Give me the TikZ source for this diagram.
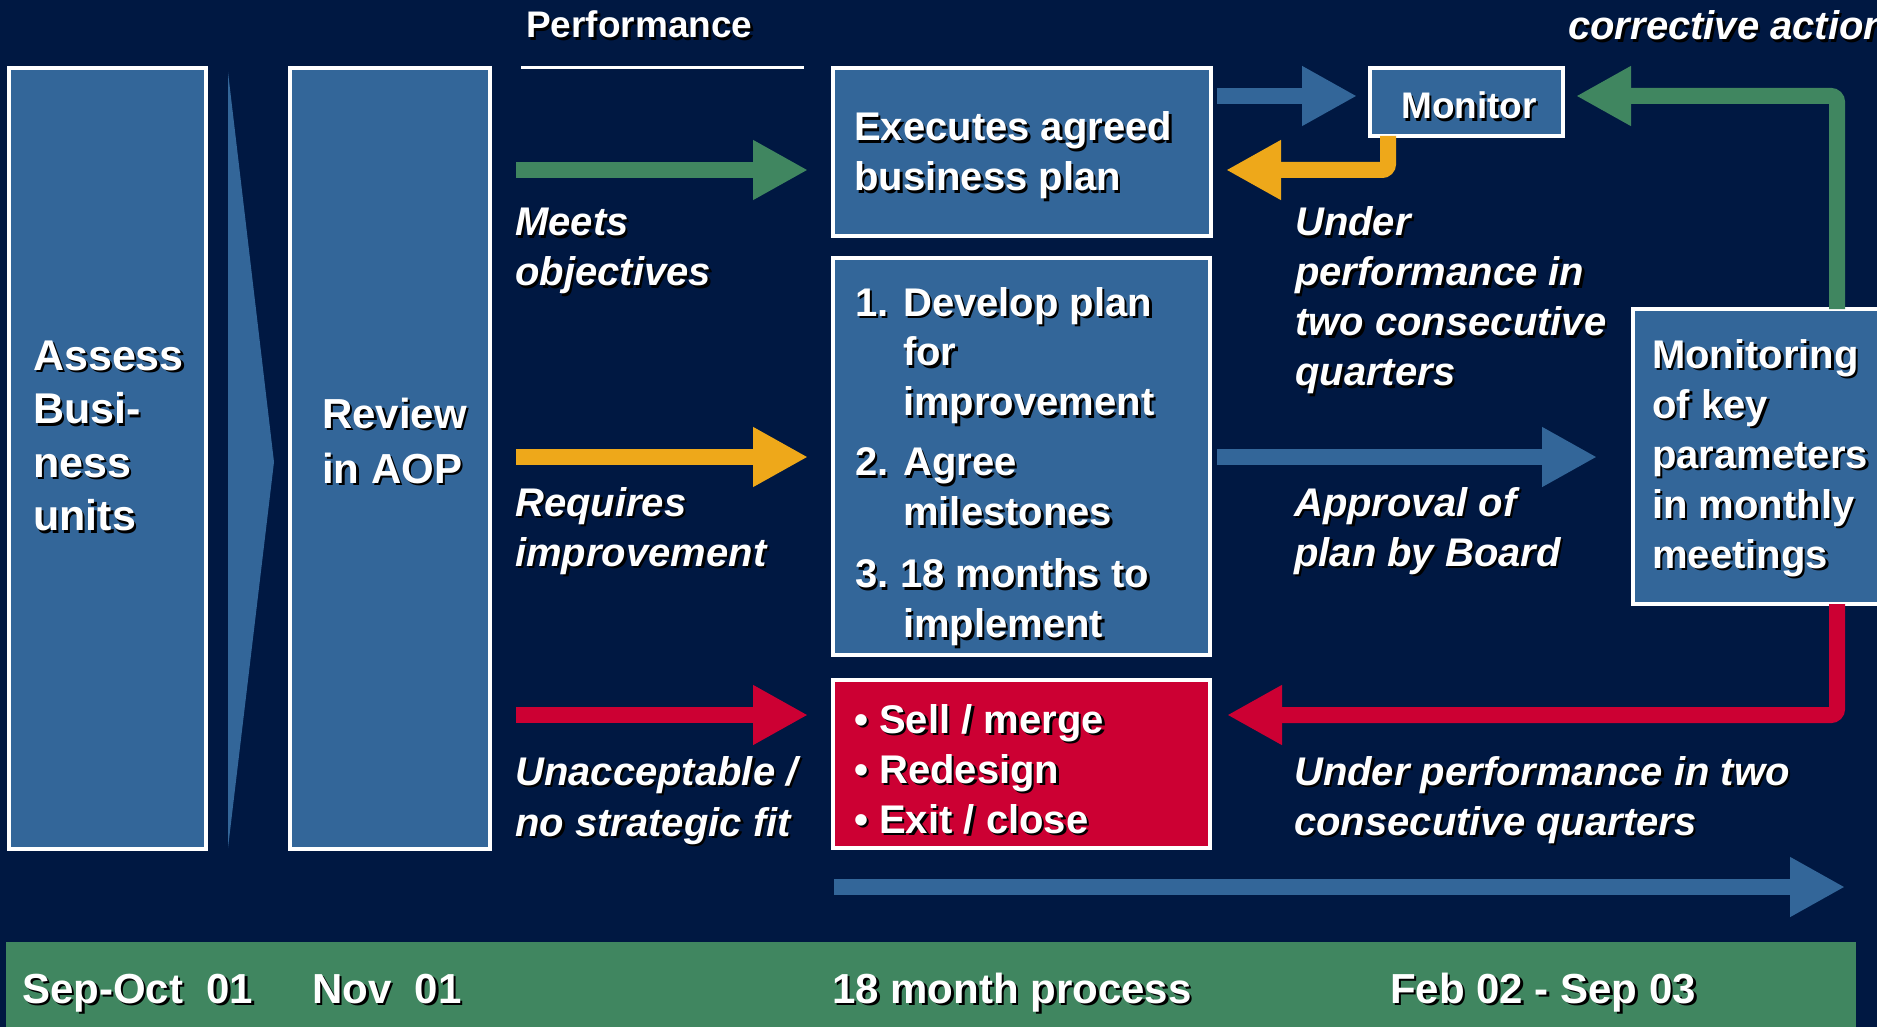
\documentclass[tikz,border=0pt]{standalone}
\usepackage{fontspec}
\setmainfont{Liberation Sans}
\usetikzlibrary{arrows.meta,fit}

\definecolor{navy}{RGB}{0,24,66}
\definecolor{boxblue}{RGB}{51,102,153}
\definecolor{pgreen}{RGB}{64,134,96}
\definecolor{porange}{RGB}{238,168,26}
\definecolor{pred}{RGB}{204,0,51}

% white text with a dark drop shadow
\newcommand\shadowtxt[1]{\leavevmode\rlap{\kern2.5pt\raisebox{-2.5pt}{\textcolor{black}{#1}}}#1}
% stacked lines, aligned on the baseline of the first line
\newcommand\txtlines[1]{\begin{tabular}[t]{@{}l@{}}#1\end{tabular}}

\tikzset{
  bluebox/.style={draw=white, line width=4pt, fill=boxblue, inner sep=0pt},
  txt/.style={text=white, inner sep=0pt, anchor=base west,
              font=\bfseries\fontsize{40}{50}\selectfont},
  itxt/.style={txt, font=\bfseries\itshape\fontsize{40}{50}\selectfont},
  bandtxt/.style={txt, font=\bfseries\fontsize{42}{50}\selectfont},
  blk/.style={line width=16pt, -{Triangle[length=55pt,width=56pt]}},
}

\begin{document}
\begin{tikzpicture}[x=1pt,y=-1pt]
\useasboundingbox (0,0) rectangle (1877,1027);
\fill[navy] (0,0) rectangle (1877,1027);

% ---- boxes ----
\node[bluebox, fit={(9,68)(206,849)}] (assess) {};
\fill[boxblue] (228,72) -- (274,462) -- (228,848) -- cycle;
\node[bluebox, fit={(290,68)(490,849)}] (review) {};
\node[bluebox, fit={(833,68)(1211,236)}] (exec) {};
\node[bluebox, fit={(833,258)(1210,655)}] (plan) {};
\node[bluebox, fill=pred, fit={(833,680)(1210,848)}] (sell) {};
\node[bluebox, fit={(1370,68)(1563,136)}] (monitor) {};
\node[bluebox, fit={(1633,309)(1900,604)}] (mkp) {};
\node[fill=pgreen, inner sep=0pt, fit={(6,942)(1856,1040)}] (band) {};

% ---- header ----
\node[txt, font=\bfseries\fontsize{37}{44}\selectfont] (perf) at (526,38) {\shadowtxt{Performance}};
\draw[white, line width=3pt] (521,68) -- (804,68);
\node[itxt] (corrT) at (1568,40) {\shadowtxt{corrective action}};

% ---- helper rows ----
\coordinate (yA) at (0,96);
\coordinate (yO) at (0,170);
\coordinate (yM) at (0,457);
\coordinate (yR) at (0,715);
\coordinate (gs) at (516,170);
\coordinate (os) at (516,457);
\coordinate (rs) at (516,715);
\coordinate (lbS) at (834,887);
\coordinate (lbE) at (1845,887);
\coordinate (oTop) at ([xshift=20pt,yshift=2pt]monitor.south west);
\coordinate (gUp) at ([xshift=206pt,yshift=-2pt]mkp.north west);
\coordinate (rDn) at ([xshift=206pt,yshift=2pt]mkp.south west);

% ---- connectors ----
\draw[blk, pgreen, shorten >=23pt] (gs) -- (gs -| exec.west);
\draw[blk, porange, shorten >=23pt] (os) -- (os -| plan.west);
\draw[blk, pred, shorten >=23pt] (rs) -- (rs -| sell.west);
\draw[blk, boxblue, shorten <=4pt, shorten >=11pt] (exec.east |- yA) -- (monitor.west |- yA);
\draw[blk, porange, rounded corners=6pt, shorten >=13pt] (oTop) |- (exec.east |- yO);
\draw[blk, boxblue, shorten <=5pt, shorten >=34pt] (plan.east |- yM) -- (mkp.west |- yM);
\draw[blk, pgreen, rounded corners=6pt, shorten >=11pt] (gUp) |- (monitor.east |- yA);
\draw[blk, pred, rounded corners=6pt, shorten >=15pt] (rDn) |- (sell.east |- yR);
\draw[blk, boxblue] (lbS) -- (lbE);

% ---- box texts ----
\node[txt, font=\bfseries\fontsize{43}{53.5}\selectfont] (assessT) at (33,370)
  {\txtlines{\shadowtxt{Assess}\\\shadowtxt{Busi-}\\\shadowtxt{ness}\\\shadowtxt{units}}};
\node[txt, font=\bfseries\fontsize{42}{55}\selectfont] (reviewT) at (322,428)
  {\txtlines{\shadowtxt{Review}\\\shadowtxt{in AOP}}};
\node[txt] (execT) at (854,141)
  {\txtlines{\shadowtxt{Executes agreed}\\\shadowtxt{business plan}}};
\node[txt] (planT) at (855,316)
  {\txtlines{\makebox[48pt][l]{\shadowtxt{1.}}\shadowtxt{Develop plan}\\
             \hspace*{48pt}\shadowtxt{for}\\
             \hspace*{48pt}\shadowtxt{improvement}\\[10pt]
             \makebox[48pt][l]{\shadowtxt{2.}}\shadowtxt{Agree}\\
             \hspace*{48pt}\shadowtxt{milestones}\\[12pt]
             \makebox[45pt][l]{\shadowtxt{3.}}\shadowtxt{18 months to}\\
             \hspace*{48pt}\shadowtxt{implement}}};
\node[txt] (sellT) at (854,733)
  {\txtlines{\shadowtxt{• Sell / merge}\\\shadowtxt{• Redesign}\\\shadowtxt{• Exit / close}}};
\node[txt, font=\bfseries\fontsize{37}{44}\selectfont] (monT) at (1401,119) {\shadowtxt{Monitor}};
\node[txt] (mkpT) at (1652,368)
  {\txtlines{\shadowtxt{Monitoring}\\\shadowtxt{of key}\\\shadowtxt{parameters}\\\shadowtxt{in monthly}\\\shadowtxt{meetings}}};

% ---- arrow labels ----
\node[itxt, font=\bfseries\itshape\fontsize{40}{50}\selectfont] (meetsT) at (515,236)
  {\txtlines{\shadowtxt{Meets}\\\shadowtxt{objectives}}};
\node[itxt] (reqT) at (515,516)
  {\txtlines{\shadowtxt{Requires}\\\shadowtxt{improvement}}};
\node[itxt, font=\bfseries\itshape\fontsize{40}{51}\selectfont] (unaccT) at (515,785)
  {\txtlines{\shadowtxt{Unacceptable /}\\\shadowtxt{no strategic fit}}};
\node[itxt] (underT) at (1295,236)
  {\txtlines{\shadowtxt{Under}\\\shadowtxt{performance in}\\\shadowtxt{two consecutive}\\\shadowtxt{quarters}}};
\node[itxt] (apprT) at (1294,516)
  {\txtlines{\shadowtxt{Approval of}\\\shadowtxt{plan by Board}}};
\node[itxt] (under2T) at (1294,785)
  {\txtlines{\shadowtxt{Under performance in two}\\\shadowtxt{consecutive quarters}}};

% ---- timeline ----
\node[bandtxt] (t1) at (22,1003) {\shadowtxt{Sep-Oct\ \ 01}};
\node[bandtxt] (t2) at (312,1003) {\shadowtxt{Nov\ \ 01}};
\node[bandtxt] (t3) at (832,1003) {\shadowtxt{18 month process}};
\node[bandtxt] (t4) at (1390,1003) {\shadowtxt{Feb 02 - Sep 03}};
\end{tikzpicture}
\end{document}
